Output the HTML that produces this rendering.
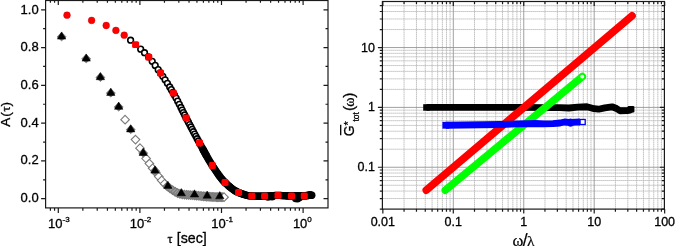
<!DOCTYPE html>
<html><head><meta charset="utf-8"><title>Figure</title>
<style>html,body{margin:0;padding:0;background:#fff;width:675px;height:246px;overflow:hidden}svg{display:block}</style>
</head><body><svg width="675" height="246" viewBox="0 0 675 246"><g stroke="#1a1a1a" stroke-width="1.2" fill="none"><rect x="45.6" y="0.5" width="282.4" height="207.4"/><path d="M41.1 198.7L45.6 198.7M323.5 198.7L328 198.7M43.1 179.81L45.6 179.81M325.5 179.81L328 179.81M41.1 160.92L45.6 160.92M323.5 160.92L328 160.92M43.1 142.03L45.6 142.03M325.5 142.03L328 142.03M41.1 123.14L45.6 123.14M323.5 123.14L328 123.14M43.1 104.25L45.6 104.25M325.5 104.25L328 104.25M41.1 85.36L45.6 85.36M323.5 85.36L328 85.36M43.1 66.47L45.6 66.47M325.5 66.47L328 66.47M41.1 47.58L45.6 47.58M323.5 47.58L328 47.58M43.1 28.69L45.6 28.69M325.5 28.69L328 28.69M41.1 9.8L45.6 9.8M323.5 9.8L328 9.8M50.39 207.9L50.39 210.7M50.39 0.5L50.39 2.8M54.57 207.9L54.57 210.7M54.57 0.5L54.57 2.8M58.3 207.9L58.3 212.9M58.3 0.5L58.3 5M82.86 207.9L82.86 210.7M82.86 0.5L82.86 2.8M97.23 207.9L97.23 210.7M97.23 0.5L97.23 2.8M107.43 207.9L107.43 210.7M107.43 0.5L107.43 2.8M115.34 207.9L115.34 210.7M115.34 0.5L115.34 2.8M121.8 207.9L121.8 210.7M121.8 0.5L121.8 2.8M127.26 207.9L127.26 210.7M127.26 0.5L127.26 2.8M131.99 207.9L131.99 210.7M131.99 0.5L131.99 2.8M136.17 207.9L136.17 210.7M136.17 0.5L136.17 2.8M139.9 207.9L139.9 212.9M139.9 0.5L139.9 5M164.46 207.9L164.46 210.7M164.46 0.5L164.46 2.8M178.83 207.9L178.83 210.7M178.83 0.5L178.83 2.8M189.03 207.9L189.03 210.7M189.03 0.5L189.03 2.8M196.94 207.9L196.94 210.7M196.94 0.5L196.94 2.8M203.4 207.9L203.4 210.7M203.4 0.5L203.4 2.8M208.86 207.9L208.86 210.7M208.86 0.5L208.86 2.8M213.59 207.9L213.59 210.7M213.59 0.5L213.59 2.8M217.77 207.9L217.77 210.7M217.77 0.5L217.77 2.8M221.5 207.9L221.5 212.9M221.5 0.5L221.5 5M246.06 207.9L246.06 210.7M246.06 0.5L246.06 2.8M260.43 207.9L260.43 210.7M260.43 0.5L260.43 2.8M270.63 207.9L270.63 210.7M270.63 0.5L270.63 2.8M278.54 207.9L278.54 210.7M278.54 0.5L278.54 2.8M285 207.9L285 210.7M285 0.5L285 2.8M290.46 207.9L290.46 210.7M290.46 0.5L290.46 2.8M295.19 207.9L295.19 210.7M295.19 0.5L295.19 2.8M299.37 207.9L299.37 210.7M299.37 0.5L299.37 2.8M303.1 207.9L303.1 212.9M303.1 0.5L303.1 5"/></g><g style="font-family:'Liberation Sans',Arial,sans-serif;stroke:#000;stroke-width:0.3px;font-size:13px" fill="#000" text-anchor="end"><text x="38.7" y="202.1">0.0</text><text x="38.7" y="164.38">0.2</text><text x="38.7" y="126.66">0.4</text><text x="38.7" y="88.94">0.6</text><text x="38.7" y="51.22">0.8</text><text x="38.7" y="13.5">1.0</text></g><g style="font-family:'Liberation Sans',Arial,sans-serif;stroke:#000;stroke-width:0.3px;font-size:13px" fill="#000"><text x="48.1" y="227.8">10<tspan dy="-6" style="font-size:8px">-3</tspan></text><text x="129.7" y="227.8">10<tspan dy="-6" style="font-size:8px">-2</tspan></text><text x="211.3" y="227.8">10<tspan dy="-6" style="font-size:8px">-1</tspan></text><text x="292.9" y="227.8">10<tspan dy="-6" style="font-size:8px">0</tspan></text></g><text x="167.6" y="243" style="font-family:'Liberation Sans',Arial,sans-serif;stroke:#000;stroke-width:0.3px;font-size:14.2px"><tspan style="font-family:'Liberation Serif',serif;font-size:12.5px">τ</tspan><tspan dx="0.2"> [sec]</tspan></text><text transform="translate(10.2 126.8) rotate(-90)" style="font-family:'Liberation Sans',Arial,sans-serif;stroke:#000;stroke-width:0.3px;font-size:13.5px">A<tspan dx="1.1">(</tspan><tspan dx="0.6" style="font-family:'Liberation Serif',serif;font-size:13px">τ</tspan><tspan dx="-0.1">)</tspan></text><g><polyline points="165,184.18 166,185.18 167,186.08 168,186.88 169,187.63 170,188.37 171,189.1 172,189.81 173,190.49 174,191.14 175,191.74 176,192.3 177,192.8 178,193.25 179,193.62 180,193.93 181,194.15 182,194.3 183,194.44 184,194.56 185,194.66 186,194.75 187,194.84 188,194.91 189,194.98 190,195.05 191,195.12 192,195.19 193,195.27 194,195.35 195,195.45 196,195.54 197,195.65 198,195.75 199,195.85 200,195.96 201,196.06 202,196.16 203,196.26 204,196.35 205,196.44 206,196.52 207,196.59 208,196.65 209,196.71 210,196.77 211,196.83 212,196.88 213,196.94 214,196.99 215,197.03 216,197.07 217,197.11 218,197.15 219,197.18 220,197.2 221,197.2 222,197.2" fill="none" stroke="#9b9b9b" stroke-width="7.4" stroke-linejoin="round"/><path d="M125.1 115.36L129.4 119.66L125.1 123.96L120.8 119.66Z" fill="#fff" stroke="#7a7a7a" stroke-width="1.1"/><path d="M135.5 135.27L139.8 139.57L135.5 143.87L131.2 139.57Z" fill="#fff" stroke="#7a7a7a" stroke-width="1.1"/><path d="M140 143.86L144.3 148.16L140 152.46L135.7 148.16Z" fill="#fff" stroke="#7a7a7a" stroke-width="1.1"/><path d="M146.1 154.22L150.4 158.52L146.1 162.82L141.8 158.52Z" fill="#fff" stroke="#7a7a7a" stroke-width="1.1"/><path d="M149.4 159.3L153.7 163.6L149.4 167.9L145.1 163.6Z" fill="#fff" stroke="#7a7a7a" stroke-width="1.1"/><path d="M152.62 163.95L156.92 168.25L152.62 172.55L148.32 168.25Z" fill="#fff" stroke="#7a7a7a" stroke-width="1.1"/><path d="M155.74 168.19L160.04 172.49L155.74 176.79L151.44 172.49Z" fill="#fff" stroke="#7a7a7a" stroke-width="1.1"/><path d="M158.77 172.27L163.07 176.57L158.77 180.87L154.47 176.57Z" fill="#fff" stroke="#7a7a7a" stroke-width="1.1"/><path d="M161.7 176.09L166 180.39L161.7 184.69L157.4 180.39Z" fill="#fff" stroke="#7a7a7a" stroke-width="1.1"/><path d="M164.55 179.41L168.85 183.71L164.55 188.01L160.25 183.71Z" fill="#fff" stroke="#7a7a7a" stroke-width="1.1"/><path d="M167.32 182.04L171.62 186.34L167.32 190.64L163.02 186.34Z" fill="#9b9b9b" stroke="#7a7a7a" stroke-width="1.1"/><path d="M170 184.07L174.3 188.37L170 192.67L165.7 188.37Z" fill="#9b9b9b" stroke="#7a7a7a" stroke-width="1.1"/><path d="M172.6 185.92L176.9 190.22L172.6 194.52L168.3 190.22Z" fill="#9b9b9b" stroke="#7a7a7a" stroke-width="1.1"/><path d="M175.12 187.51L179.42 191.81L175.12 196.11L170.82 191.81Z" fill="#9b9b9b" stroke="#7a7a7a" stroke-width="1.1"/><path d="M177.57 188.76L181.87 193.06L177.57 197.36L173.27 193.06Z" fill="#9b9b9b" stroke="#7a7a7a" stroke-width="1.1"/><path d="M179.94 189.61L184.24 193.91L179.94 198.21L175.64 193.91Z" fill="#9b9b9b" stroke="#7a7a7a" stroke-width="1.1"/><path d="M182.24 190.04L186.54 194.34L182.24 198.64L177.94 194.34Z" fill="#9b9b9b" stroke="#7a7a7a" stroke-width="1.1"/><path d="M184.47 190.31L188.77 194.61L184.47 198.91L180.17 194.61Z" fill="#9b9b9b" stroke="#7a7a7a" stroke-width="1.1"/><path d="M186.64 190.51L190.94 194.81L186.64 199.11L182.34 194.81Z" fill="#9b9b9b" stroke="#7a7a7a" stroke-width="1.1"/><path d="M188.74 190.67L193.04 194.97L188.74 199.27L184.44 194.97Z" fill="#9b9b9b" stroke="#7a7a7a" stroke-width="1.1"/><path d="M190.78 190.81L195.08 195.11L190.78 199.41L186.48 195.11Z" fill="#9b9b9b" stroke="#7a7a7a" stroke-width="1.1"/><path d="M192.75 190.95L197.05 195.25L192.75 199.55L188.45 195.25Z" fill="#9b9b9b" stroke="#7a7a7a" stroke-width="1.1"/><path d="M194.67 191.12L198.97 195.42L194.67 199.72L190.37 195.42Z" fill="#9b9b9b" stroke="#7a7a7a" stroke-width="1.1"/><path d="M196.53 191.3L200.83 195.6L196.53 199.9L192.23 195.6Z" fill="#9b9b9b" stroke="#7a7a7a" stroke-width="1.1"/><path d="M198.34 191.48L202.64 195.78L198.34 200.08L194.04 195.78Z" fill="#9b9b9b" stroke="#7a7a7a" stroke-width="1.1"/><path d="M200.09 191.67L204.39 195.97L200.09 200.27L195.79 195.97Z" fill="#9b9b9b" stroke="#7a7a7a" stroke-width="1.1"/><path d="M201.78 191.84L206.08 196.14L201.78 200.44L197.48 196.14Z" fill="#9b9b9b" stroke="#7a7a7a" stroke-width="1.1"/><path d="M203.43 192L207.73 196.3L203.43 200.6L199.13 196.3Z" fill="#9b9b9b" stroke="#7a7a7a" stroke-width="1.1"/><path d="M205.03 192.14L209.33 196.44L205.03 200.74L200.73 196.44Z" fill="#9b9b9b" stroke="#7a7a7a" stroke-width="1.1"/><path d="M206.58 192.26L210.88 196.56L206.58 200.86L202.28 196.56Z" fill="#9b9b9b" stroke="#7a7a7a" stroke-width="1.1"/><path d="M208.08 192.36L212.38 196.66L208.08 200.96L203.78 196.66Z" fill="#9b9b9b" stroke="#7a7a7a" stroke-width="1.1"/><path d="M209.54 192.44L213.84 196.74L209.54 201.04L205.24 196.74Z" fill="#9b9b9b" stroke="#7a7a7a" stroke-width="1.1"/><path d="M210.95 192.53L215.25 196.83L210.95 201.13L206.65 196.83Z" fill="#9b9b9b" stroke="#7a7a7a" stroke-width="1.1"/><path d="M212.32 192.6L216.62 196.9L212.32 201.2L208.02 196.9Z" fill="#9b9b9b" stroke="#7a7a7a" stroke-width="1.1"/><path d="M213.65 192.67L217.95 196.97L213.65 201.27L209.35 196.97Z" fill="#9b9b9b" stroke="#7a7a7a" stroke-width="1.1"/><path d="M214.95 192.73L219.25 197.03L214.95 201.33L210.65 197.03Z" fill="#9b9b9b" stroke="#7a7a7a" stroke-width="1.1"/><path d="M216.25 192.79L220.55 197.09L216.25 201.39L211.95 197.09Z" fill="#9b9b9b" stroke="#7a7a7a" stroke-width="1.1"/><path d="M217.55 192.83L221.85 197.13L217.55 201.43L213.25 197.13Z" fill="#9b9b9b" stroke="#7a7a7a" stroke-width="1.1"/><path d="M218.85 192.87L223.15 197.17L218.85 201.47L214.55 197.17Z" fill="#9b9b9b" stroke="#7a7a7a" stroke-width="1.1"/><path d="M220.15 192.9L224.45 197.2L220.15 201.5L215.85 197.2Z" fill="#9b9b9b" stroke="#7a7a7a" stroke-width="1.1"/><path d="M221.45 192.9L225.75 197.2L221.45 201.5L217.15 197.2Z" fill="#9b9b9b" stroke="#7a7a7a" stroke-width="1.1"/><path d="M222.75 192.9L227.05 197.2L222.75 201.5L218.45 197.2Z" fill="#9b9b9b" stroke="#7a7a7a" stroke-width="1.1"/><path d="M224.05 192.9L228.35 197.2L224.05 201.5L219.75 197.2Z" fill="#fff" stroke="#7a7a7a" stroke-width="1.1"/><path d="M61.6 32.3L66.1 36.9L61.6 40.8L57.1 36.9Z" fill="#666" stroke="#777" stroke-width="0.8"/><path d="M57.4 39.1L61.6 31.9L65.8 39.1Z" fill="#000" stroke="#000" stroke-width="0.5" stroke-linejoin="round"/><path d="M86.2 54.3L90.7 58.9L86.2 62.8L81.7 58.9Z" fill="#666" stroke="#777" stroke-width="0.8"/><path d="M82 61.1L86.2 53.9L90.4 61.1Z" fill="#000" stroke="#000" stroke-width="0.5" stroke-linejoin="round"/><path d="M100.4 72.9L104.9 77.5L100.4 81.4L95.9 77.5Z" fill="#666" stroke="#777" stroke-width="0.8"/><path d="M96.2 79.7L100.4 72.5L104.6 79.7Z" fill="#000" stroke="#000" stroke-width="0.5" stroke-linejoin="round"/><path d="M110.8 88.6L115.3 93.2L110.8 97.1L106.3 93.2Z" fill="#666" stroke="#777" stroke-width="0.8"/><path d="M106.6 95.4L110.8 88.2L115 95.4Z" fill="#000" stroke="#000" stroke-width="0.5" stroke-linejoin="round"/><path d="M118.7 102.5L123.2 107.1L118.7 111L114.2 107.1Z" fill="#666" stroke="#777" stroke-width="0.8"/><path d="M114.5 109.3L118.7 102.1L122.9 109.3Z" fill="#000" stroke="#000" stroke-width="0.5" stroke-linejoin="round"/><path d="M130.7 125.1L135.2 129.7L130.7 133.6L126.2 129.7Z" fill="#666" stroke="#777" stroke-width="0.8"/><path d="M126.5 131.9L130.7 124.7L134.9 131.9Z" fill="#000" stroke="#000" stroke-width="0.5" stroke-linejoin="round"/><path d="M143.2 148.6L147.7 153.2L143.2 157.1L138.7 153.2Z" fill="#666" stroke="#777" stroke-width="0.8"/><path d="M139 155.4L143.2 148.2L147.4 155.4Z" fill="#000" stroke="#000" stroke-width="0.5" stroke-linejoin="round"/><path d="M155 166.3L159.5 170.9L155 174.8L150.5 170.9Z" fill="#666" stroke="#777" stroke-width="0.8"/><path d="M150.8 173.1L155 165.9L159.2 173.1Z" fill="#000" stroke="#000" stroke-width="0.5" stroke-linejoin="round"/><path d="M163.7 188.4L167.9 181.2L172.1 188.4Z" fill="#000" stroke="#000" stroke-width="0.5" stroke-linejoin="round"/><path d="M177.1 195.8L181.3 188.6L185.5 195.8Z" fill="#000" stroke="#000" stroke-width="0.5" stroke-linejoin="round"/><path d="M190.3 197L194.5 189.8L198.7 197Z" fill="#000" stroke="#000" stroke-width="0.5" stroke-linejoin="round"/><path d="M203 198.2L207.2 191L211.4 198.2Z" fill="#000" stroke="#000" stroke-width="0.5" stroke-linejoin="round"/><path d="M215.6 198.8L219.8 191.6L224 198.8Z" fill="#000" stroke="#000" stroke-width="0.5" stroke-linejoin="round"/></g><g fill="#fff" stroke="#000" stroke-width="1.6"><circle cx="130.6" cy="40.2" r="2.85"/><circle cx="140.7" cy="49.13" r="2.85"/><circle cx="144.5" cy="52.7" r="2.85"/><circle cx="148.5" cy="56.87" r="2.85"/><circle cx="152.2" cy="61.33" r="2.85"/><circle cx="155.2" cy="65.39" r="2.85"/><circle cx="158.2" cy="69.67" r="2.85"/><circle cx="160.5" cy="73" r="2.85"/><circle cx="162.8" cy="76.36" r="2.85"/><circle cx="165.1" cy="79.8" r="2.85"/><circle cx="167.4" cy="83.34" r="2.85"/><circle cx="169.7" cy="87" r="2.85"/><circle cx="171.3" cy="89.63" r="2.85"/><circle cx="172.9" cy="92.34" r="2.85"/><circle cx="174.5" cy="95.15" r="2.85"/><circle cx="176.1" cy="98.1" r="2.85"/><circle cx="177.7" cy="101.17" r="2.85"/><circle cx="179.3" cy="104.32" r="2.85"/><circle cx="180.9" cy="107.52" r="2.85"/><circle cx="182.15" cy="110.03" r="2.85"/><circle cx="183.4" cy="112.53" r="2.85"/><circle cx="184.65" cy="114.99" r="2.85"/><circle cx="185.9" cy="117.42" r="2.85"/><circle cx="187.15" cy="119.8" r="2.85"/><circle cx="188.4" cy="122.19" r="2.85"/><circle cx="189.65" cy="124.57" r="2.85"/><circle cx="190.9" cy="126.95" r="2.85"/><circle cx="192.15" cy="129.32" r="2.85"/><circle cx="193.4" cy="131.69" r="2.85"/><circle cx="194.65" cy="134.04" r="2.85"/><circle cx="195.9" cy="136.37" r="2.85"/><circle cx="197.15" cy="138.69" r="2.85"/><circle cx="198.4" cy="140.99" r="2.85"/><circle cx="199.65" cy="143.27" r="2.85"/><circle cx="200.9" cy="145.56" r="2.85"/><circle cx="202.15" cy="147.86" r="2.85"/><circle cx="203.4" cy="150.16" r="2.85"/><circle cx="204.65" cy="152.46" r="2.85"/><circle cx="205.9" cy="154.73" r="2.85"/></g><g fill="#000"><circle cx="203" cy="149.43" r="3.65"/><circle cx="204" cy="151.27" r="3.65"/><circle cx="205" cy="153.09" r="3.65"/><circle cx="206" cy="154.91" r="3.65"/><circle cx="207" cy="156.69" r="3.65"/><circle cx="208" cy="158.45" r="3.65"/><circle cx="209" cy="160.17" r="3.65"/><circle cx="210" cy="161.85" r="3.65"/><circle cx="211" cy="163.47" r="3.65"/><circle cx="212" cy="165.04" r="3.65"/><circle cx="213" cy="166.56" r="3.65"/><circle cx="214" cy="168.08" r="3.65"/><circle cx="215" cy="169.59" r="3.65"/><circle cx="216" cy="171.08" r="3.65"/><circle cx="217" cy="172.55" r="3.65"/><circle cx="218" cy="173.99" r="3.65"/><circle cx="219" cy="175.38" r="3.65"/><circle cx="220" cy="176.73" r="3.65"/><circle cx="221" cy="178.03" r="3.65"/><circle cx="222" cy="179.26" r="3.65"/><circle cx="223" cy="180.42" r="3.65"/><circle cx="224" cy="181.5" r="3.65"/><circle cx="225" cy="182.5" r="3.65"/><circle cx="226" cy="183.45" r="3.65"/><circle cx="227" cy="184.37" r="3.65"/><circle cx="228" cy="185.28" r="3.65"/><circle cx="229" cy="186.16" r="3.65"/><circle cx="230" cy="187.01" r="3.65"/><circle cx="231" cy="187.83" r="3.65"/><circle cx="232" cy="188.61" r="3.65"/><circle cx="233" cy="189.35" r="3.65"/><circle cx="234" cy="190.04" r="3.65"/><circle cx="235" cy="190.68" r="3.65"/><circle cx="236" cy="191.26" r="3.65"/><circle cx="237" cy="191.79" r="3.65"/><circle cx="238" cy="192.25" r="3.65"/><circle cx="239" cy="192.66" r="3.65"/><circle cx="240" cy="193.04" r="3.65"/><circle cx="241" cy="193.42" r="3.65"/><circle cx="242" cy="193.79" r="3.65"/><circle cx="243" cy="194.14" r="3.65"/><circle cx="244" cy="194.47" r="3.65"/><circle cx="245" cy="194.78" r="3.65"/><circle cx="246" cy="195.07" r="3.65"/><circle cx="247" cy="195.32" r="3.65"/><circle cx="248" cy="195.54" r="3.65"/><circle cx="249" cy="195.73" r="3.65"/><circle cx="250" cy="195.87" r="3.65"/><circle cx="251" cy="195.96" r="3.65"/><circle cx="252" cy="196.01" r="3.65"/><circle cx="253" cy="196.03" r="3.65"/><circle cx="254" cy="196.06" r="3.65"/><circle cx="255" cy="196.08" r="3.65"/><circle cx="256" cy="196.11" r="3.65"/><circle cx="257" cy="196.13" r="3.65"/><circle cx="258" cy="196.14" r="3.65"/><circle cx="259" cy="196.16" r="3.65"/><circle cx="260" cy="196.17" r="3.65"/><circle cx="261" cy="196.18" r="3.65"/><circle cx="262" cy="196.19" r="3.65"/><circle cx="263" cy="196.2" r="3.65"/><circle cx="264" cy="196.2" r="3.65"/><circle cx="265" cy="196.2" r="3.65"/><circle cx="266" cy="196.18" r="3.65"/><circle cx="267" cy="196.13" r="3.65"/><circle cx="268" cy="196.07" r="3.65"/><circle cx="269" cy="196" r="3.65"/><circle cx="270" cy="195.91" r="3.65"/><circle cx="271" cy="195.83" r="3.65"/><circle cx="272" cy="195.74" r="3.65"/><circle cx="273" cy="195.65" r="3.65"/><circle cx="274" cy="195.57" r="3.65"/><circle cx="275" cy="195.5" r="3.65"/><circle cx="276" cy="195.45" r="3.65"/><circle cx="277" cy="195.41" r="3.65"/><circle cx="278" cy="195.4" r="3.65"/><circle cx="279" cy="195.41" r="3.65"/><circle cx="280" cy="195.44" r="3.65"/><circle cx="281" cy="195.48" r="3.65"/><circle cx="282" cy="195.53" r="3.65"/><circle cx="283" cy="195.59" r="3.65"/><circle cx="284" cy="195.65" r="3.65"/><circle cx="285" cy="195.72" r="3.65"/><circle cx="286" cy="195.78" r="3.65"/><circle cx="287" cy="195.84" r="3.65"/><circle cx="288" cy="195.9" r="3.65"/><circle cx="289" cy="195.95" r="3.65"/><circle cx="290" cy="195.98" r="3.65"/><circle cx="291" cy="196" r="3.65"/><circle cx="292" cy="196" r="3.65"/><circle cx="293" cy="196" r="3.65"/><circle cx="294" cy="196" r="3.65"/><circle cx="295" cy="196" r="3.65"/><circle cx="296" cy="196" r="3.65"/><circle cx="297" cy="196" r="3.65"/><circle cx="298" cy="196" r="3.65"/><circle cx="299" cy="196" r="3.65"/><circle cx="300" cy="196" r="3.65"/><circle cx="301" cy="196" r="3.65"/><circle cx="302" cy="196" r="3.65"/><circle cx="303" cy="196" r="3.65"/><circle cx="304" cy="196" r="3.65"/><circle cx="305" cy="195.92" r="3.65"/><circle cx="306" cy="195.8" r="3.65"/><circle cx="307" cy="195.68" r="3.65"/><circle cx="308" cy="195.56" r="3.65"/><circle cx="309" cy="195.44" r="3.65"/><circle cx="310" cy="195.32" r="3.65"/><circle cx="311" cy="195.2" r="3.65"/><circle cx="295.5" cy="198.6" r="3.6"/><circle cx="297.5" cy="198.9" r="3.6"/><circle cx="299.5" cy="197.8" r="3.5"/><circle cx="307.5" cy="195.2" r="3.7"/><circle cx="309.8" cy="194.7" r="3.8"/><circle cx="311.8" cy="195.2" r="3.7"/><circle cx="268" cy="197.2" r="3.6"/><circle cx="272" cy="197" r="3.6"/></g><g fill="#ff0000" stroke="#b00000" stroke-width="0.4"><circle cx="67" cy="15.2" r="3.4"/><circle cx="91.6" cy="20.4" r="3.4"/><circle cx="106.2" cy="25.5" r="3.4"/><circle cx="115.9" cy="30.4" r="3.4"/><circle cx="124.2" cy="35.2" r="3.4"/></g><g fill="#ff0000"><rect x="132.1" y="41.2" width="7" height="6.8" rx="1.6"/><rect x="145.3" y="53.8" width="7" height="6.8" rx="1.6"/><rect x="157" y="69.6" width="7" height="6.8" rx="1.6"/><rect x="169.9" y="89.8" width="7" height="6.8" rx="1.6"/><rect x="182.6" y="114.4" width="7" height="6.8" rx="1.6"/><rect x="196" y="139.6" width="7" height="6.8" rx="1.6"/><rect x="208.8" y="162.1" width="7" height="6.8" rx="1.6"/><rect x="221.5" y="179.1" width="7" height="6.8" rx="1.6"/><rect x="235.1" y="189.1" width="7" height="6.8" rx="1.6"/><rect x="248.3" y="192.6" width="7" height="6.8" rx="1.6"/><rect x="261.1" y="192.8" width="7" height="6.8" rx="1.6"/><rect x="274.5" y="192" width="7" height="6.8" rx="1.6"/><rect x="288" y="192.6" width="7" height="6.8" rx="1.6"/><rect x="300.8" y="192.6" width="7" height="6.8" rx="1.6"/></g><path d="M404.06 1.5V209.1M416.46 1.5V209.1M425.27 1.5V209.1M432.09 1.5V209.1M437.67 1.5V209.1M442.39 1.5V209.1M446.47 1.5V209.1M450.08 1.5V209.1M474.51 1.5V209.1M486.91 1.5V209.1M495.72 1.5V209.1M502.54 1.5V209.1M508.12 1.5V209.1M512.84 1.5V209.1M516.92 1.5V209.1M520.53 1.5V209.1M544.96 1.5V209.1M557.36 1.5V209.1M566.17 1.5V209.1M572.99 1.5V209.1M578.57 1.5V209.1M583.29 1.5V209.1M587.37 1.5V209.1M590.98 1.5V209.1M615.41 1.5V209.1M627.81 1.5V209.1M636.62 1.5V209.1M643.44 1.5V209.1M649.02 1.5V209.1M653.74 1.5V209.1M657.82 1.5V209.1M661.43 1.5V209.1M382.4 198.54H664.4M382.4 191.07H664.4M382.4 185.27H664.4M382.4 180.53H664.4M382.4 176.52H664.4M382.4 173.05H664.4M382.4 169.99H664.4M382.4 149.23H664.4M382.4 138.69H664.4M382.4 131.22H664.4M382.4 125.42H664.4M382.4 120.68H664.4M382.4 116.67H664.4M382.4 113.2H664.4M382.4 110.14H664.4M382.4 89.38H664.4M382.4 78.84H664.4M382.4 71.37H664.4M382.4 65.57H664.4M382.4 60.83H664.4M382.4 56.82H664.4M382.4 53.35H664.4M382.4 50.29H664.4M382.4 29.53H664.4M382.4 18.99H664.4M382.4 11.52H664.4M382.4 5.72H664.4" stroke="#b4b4b4" stroke-width="0.9" stroke-dasharray="1.4 0.6" fill="none"/><path d="M453.3 1.5V209.1M523.75 1.5V209.1M594.2 1.5V209.1M382.4 167.25H664.4M382.4 107.4H664.4M382.4 47.55H664.4" stroke="#959595" stroke-width="0.9" fill="none"/><polyline points="426.4,107.45 520,107.3 546.7,107.6 560,107.6 568.9,108 577.8,107.1 586.9,106.75 594.1,108.7 598.6,109.2 604.8,107.85 612,106.8 616.5,108.5 620,110.75 627.2,110.55 629.9,110.1 631,109.3" fill="none" stroke="#000" stroke-width="6.8" stroke-linecap="butt" stroke-linejoin="round"/><rect x="423.2" y="104.2" width="6.5" height="6.5" fill="#000"/><rect x="627.6" y="105.9" width="6.8" height="6.6" rx="1.2" fill="#000"/><line x1="426.3" y1="190.2" x2="632" y2="15.8" stroke="#ff0000" stroke-width="7.6" stroke-linecap="round"/><line x1="445.4" y1="190.2" x2="582.3" y2="76.6" stroke="#00ff00" stroke-width="7.6" stroke-linecap="round"/><circle cx="582.3" cy="76.6" r="2.6" fill="#fff" stroke="#00ff00" stroke-width="1.3"/><polyline points="445.7,125.25 500,124.5 535,123.5 544,123.8 553,123.6 560,123 564.5,122 570.8,122.7 575.3,122.1 580,122" fill="none" stroke="#0000ff" stroke-width="6.8" stroke-linecap="butt" stroke-linejoin="round"/><rect x="442.4" y="121.85" width="6.8" height="6.8" fill="#0000ff"/><rect x="568" y="118.4" width="5" height="8.4" rx="2.5" fill="#0000ff"/><rect x="580.1" y="119.5" width="5.1" height="5" fill="#fff" stroke="#0000ff" stroke-width="1.3"/><g stroke="#1a1a1a" stroke-width="1.2" fill="none"><rect x="382.4" y="1.5" width="282" height="207.6"/><path d="M382.85 209.1v4.5M382.85 1.5v4.5M404.06 209.1v2.6M404.06 1.5v2.6M416.46 209.1v2.6M416.46 1.5v2.6M425.27 209.1v2.6M425.27 1.5v2.6M432.09 209.1v2.6M432.09 1.5v2.6M437.67 209.1v2.6M437.67 1.5v2.6M442.39 209.1v2.6M442.39 1.5v2.6M446.47 209.1v2.6M446.47 1.5v2.6M450.08 209.1v2.6M450.08 1.5v2.6M453.3 209.1v4.5M453.3 1.5v4.5M474.51 209.1v2.6M474.51 1.5v2.6M486.91 209.1v2.6M486.91 1.5v2.6M495.72 209.1v2.6M495.72 1.5v2.6M502.54 209.1v2.6M502.54 1.5v2.6M508.12 209.1v2.6M508.12 1.5v2.6M512.84 209.1v2.6M512.84 1.5v2.6M516.92 209.1v2.6M516.92 1.5v2.6M520.53 209.1v2.6M520.53 1.5v2.6M523.75 209.1v4.5M523.75 1.5v4.5M544.96 209.1v2.6M544.96 1.5v2.6M557.36 209.1v2.6M557.36 1.5v2.6M566.17 209.1v2.6M566.17 1.5v2.6M572.99 209.1v2.6M572.99 1.5v2.6M578.57 209.1v2.6M578.57 1.5v2.6M583.29 209.1v2.6M583.29 1.5v2.6M587.37 209.1v2.6M587.37 1.5v2.6M590.98 209.1v2.6M590.98 1.5v2.6M594.2 209.1v4.5M594.2 1.5v4.5M615.41 209.1v2.6M615.41 1.5v2.6M627.81 209.1v2.6M627.81 1.5v2.6M636.62 209.1v2.6M636.62 1.5v2.6M643.44 209.1v2.6M643.44 1.5v2.6M649.02 209.1v2.6M649.02 1.5v2.6M653.74 209.1v2.6M653.74 1.5v2.6M657.82 209.1v2.6M657.82 1.5v2.6M661.43 209.1v2.6M661.43 1.5v2.6M664.65 209.1v4.5M664.65 1.5v4.5M382.4 209.08h-2.6M664.4 209.08h-2.6M382.4 198.54h-2.6M664.4 198.54h-2.6M382.4 191.07h-2.6M664.4 191.07h-2.6M382.4 185.27h-2.6M664.4 185.27h-2.6M382.4 180.53h-2.6M664.4 180.53h-2.6M382.4 176.52h-2.6M664.4 176.52h-2.6M382.4 173.05h-2.6M664.4 173.05h-2.6M382.4 169.99h-2.6M664.4 169.99h-2.6M382.4 167.25h-4.5M664.4 167.25h-4.5M382.4 149.23h-2.6M664.4 149.23h-2.6M382.4 138.69h-2.6M664.4 138.69h-2.6M382.4 131.22h-2.6M664.4 131.22h-2.6M382.4 125.42h-2.6M664.4 125.42h-2.6M382.4 120.68h-2.6M664.4 120.68h-2.6M382.4 116.67h-2.6M664.4 116.67h-2.6M382.4 113.2h-2.6M664.4 113.2h-2.6M382.4 110.14h-2.6M664.4 110.14h-2.6M382.4 107.4h-4.5M664.4 107.4h-4.5M382.4 89.38h-2.6M664.4 89.38h-2.6M382.4 78.84h-2.6M664.4 78.84h-2.6M382.4 71.37h-2.6M664.4 71.37h-2.6M382.4 65.57h-2.6M664.4 65.57h-2.6M382.4 60.83h-2.6M664.4 60.83h-2.6M382.4 56.82h-2.6M664.4 56.82h-2.6M382.4 53.35h-2.6M664.4 53.35h-2.6M382.4 50.29h-2.6M664.4 50.29h-2.6M382.4 47.55h-4.5M664.4 47.55h-4.5M382.4 29.53h-2.6M664.4 29.53h-2.6M382.4 18.99h-2.6M664.4 18.99h-2.6M382.4 11.52h-2.6M664.4 11.52h-2.6M382.4 5.72h-2.6M664.4 5.72h-2.6"/></g><g style="font-family:'Liberation Sans',Arial,sans-serif;stroke:#000;stroke-width:0.3px;font-size:12.5px" fill="#000" text-anchor="end"><text x="374.9" y="51.55">10</text><text x="374.9" y="111.4">1</text><text x="374.9" y="171.25">0.1</text></g><g style="font-family:'Liberation Sans',Arial,sans-serif;stroke:#000;stroke-width:0.3px;font-size:12.5px" fill="#000" text-anchor="middle"><text x="382.85" y="226.3">0.01</text><text x="453.3" y="226.3">0.1</text><text x="523.75" y="226.3">1</text><text x="594.2" y="226.3">10</text><text x="664.65" y="226.3">100</text></g><text x="512.5" y="246" style="font-family:'Liberation Serif',serif;font-size:16.5px;stroke:#000;stroke-width:0.2px">ω<tspan style="font-family:'Liberation Sans',sans-serif;font-size:17.5px" dx="-0.7">/</tspan><tspan dx="-0.6" style="font-size:15.5px">λ</tspan></text><g transform="translate(353.8 136.1) rotate(-90)" style="font-family:'Liberation Sans',Arial,sans-serif;stroke:#000;stroke-width:0.3px;font-size:13.5px"><text x="-0.2" y="0" style="font-size:14px">G</text><text x="10.6" y="-2.0" style="font-size:11px">*</text><text x="14.6" y="5.3" style="font-size:8.5px">tot</text><text x="25.0" y="0.6" style="font-size:15.5px">(<tspan style="font-family:'Liberation Serif',serif;font-size:14px" dy="-0.6" dx="-0.8">ω</tspan><tspan dy="0.6" dx="-0.3">)</tspan></text><line x1="0.9" y1="-13.1" x2="11.4" y2="-13.1" stroke="#000" stroke-width="1.3"/></g></svg></body></html>
